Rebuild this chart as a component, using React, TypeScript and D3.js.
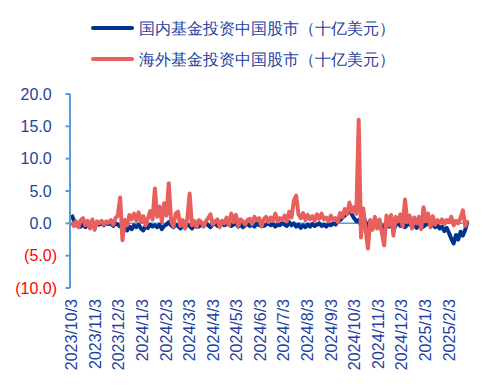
import React from "react";
import * as d3 from "d3";

const START_DATE = "2023-10-03";
const STEP_DAYS = 3;

const domesticValues = [
  1.3, 0.5, -0.3, 0.0, -0.5, -0.2, -0.6, -0.1, -0.4, 0.0, -0.3, 0.1, -0.2, 0.0, -0.3, 0.1, -0.1, 0.0, -0.4, 0.0,
  -0.2, -0.5, -0.3, -0.8, -1.1, -0.5, -0.9, -0.3, -0.6, -0.2, -0.8, -1.1, -0.4, -0.7, -0.2, -0.5, -0.3, -0.6, -0.2, -0.9,
  -0.4, -0.2, 0.2, -0.3, -0.6, -0.2, -0.4, -0.8, -0.3, -0.6, -0.2, -0.4, -0.8, -0.3, -0.1, -0.5, -0.2, -0.4, 0.0, -0.3,
  -0.6, -0.2, 0.0, -0.4, -0.1, 0.2, -0.3, -0.1, 0.1, -0.4, -0.2, 0.0, -0.5, -0.2, -0.6, -0.3, -0.1, -0.4, -0.2, -0.5,
  0.0, -0.3, -0.1, -0.4, -0.2, 0.0, -0.3, -0.1, -0.5, -0.2, -0.3, 0.1, -0.2, -0.4, 0.2, -0.3, 0.0, -0.5, -0.2, -0.7,
  -0.3, -0.6, -0.2, -0.5, -0.1, -0.4, -0.2, 0.0, -0.4, -0.2, -0.5, -0.1, -0.3, 0.0, -0.2, 0.3, 0.5, 0.9, 1.2, 1.6,
  2.0, 1.4, 0.8, 0.3, 0.5, -0.3, 1.0, 0.2, -0.5, 0.4, -0.3, 0.2, -0.6, 0.0, -0.4, -0.8, 0.1, -0.5, -0.2, -1.0,
  -0.3, 0.2, -0.4, -0.1, -0.6, -0.2, 0.0, -0.5, -0.2, -0.7, -0.3, -0.1, -0.5, -0.2, 0.1, -0.3, -0.2, -0.6, -0.3, -0.8,
  -0.5, -1.2, -0.7, -1.5, -2.4, -3.1, -1.8, -2.5, -1.3, -1.9, -1.0, 0.3,
];

const foreignValues = [
  0.2, -0.4, 0.3, -0.6, 0.5, 0.8, -0.3, 0.4, -0.8, 0.6, -1.0, 0.3, 0.0, 0.4, -0.2, 0.3, 0.1, 0.5, -0.2, 0.8,
  1.2, 4.0, -2.6, 0.5, -0.3, 1.3, 0.6, 1.5, 0.4, 1.7, 0.2, 1.1, -0.3, 0.8, 1.9, 0.6, 5.4, 1.0, 2.6, 0.3,
  3.1, 1.2, 6.2, 0.4, -0.5, 1.5, 1.8, -0.4, 0.5, -0.8, 0.7, 4.6, -0.3, 0.4, -0.6, 0.5, 0.2, -0.5, 0.3, 0.8,
  1.4, -0.2, 0.3, 0.6, -0.6, 0.4, 0.0, 0.9, -0.3, 1.5, 0.2, 1.3, -0.4, 0.6, 0.3, -0.2, 0.5, 0.7, -0.1, 1.0,
  0.5, 0.8, -0.5, 0.6, 1.0, 0.2, 0.9, 0.4, 1.5, 0.3, 0.8, 0.5, 1.2, 0.3, 1.8, 0.9, 3.5, 4.3, 1.4, 0.8,
  1.6, 0.5, 1.3, 0.6, 1.1, 0.4, 1.4, 0.7, 1.5, 0.6, 0.9, 0.3, 1.2, 0.5, 0.8, 0.2, 1.6, 1.0, 2.2, 1.4,
  3.2, 1.8, 2.5, 1.5, 16.0, -2.2, 2.3, -1.0, -3.9, 0.5, -1.0, 1.0, -0.8, 0.6, -1.5, -3.4, 1.2, -0.3, 1.3, -1.9,
  1.0, 0.3, 1.4, -0.5, 3.7, 0.2, 1.2, -0.8, 0.9, 0.0, 1.0, -0.9, 2.5, 0.3, 1.5, -0.6, 1.1, -0.2, 0.5, 0.1,
  0.6, -0.1, 0.5, 0.2, 1.0, -0.3, 0.4, 0.0, 0.9, 2.0, -0.4, 0.5,
];

const yTicks = [20, 15, 10, 5, 0, -5, -10];
const xTickLabels = [
  "2023/10/3", "2023/11/3", "2023/12/3", "2024/1/3", "2024/2/3", "2024/3/3", "2024/4/3", "2024/5/3",
  "2024/6/3", "2024/7/3", "2024/8/3", "2024/9/3", "2024/10/3", "2024/11/3", "2024/12/3", "2025/1/3", "2025/2/3",
];
const seriesNames = ["国内基金投资中国股市（十亿美元）", "海外基金投资中国股市（十亿美元）"];

const BLUE = "#00338F";
const RED = "#E8605E";
const AXIS = "#5B9BD5";
const TEXT = "#1F3F9F";
const FONT = "'Liberation Sans', Arial, sans-serif";

export default function App() {
  const parse = d3.timeParse("%Y-%m-%d");
  const parseSlash = d3.timeParse("%Y/%m/%d");
  const start = parse(START_DATE) as Date;
  const dates = domesticValues.map((_, i) => d3.timeDay.offset(start, i * STEP_DAYS));
  const endDate = dates[dates.length - 1];

  const x = d3.scaleTime().domain([start, parseSlash("2025/2/3") as Date]).range([71.5, 449]);
  const y = d3.scaleLinear().domain([-10, 20]).range([288, 94]);

  const line = d3
    .line<number>()
    .x((_, i) => x(dates[i]))
    .y((v) => y(v))
    .curve(d3.curveLinear);

  const fmt = (v: number) => (v < 0 ? `(${Math.abs(v).toFixed(1)})` : v.toFixed(1));

  return (
    <svg
      width={491}
      height={386}
      style={{ position: "absolute", left: 0, top: 0, background: "#fff" }}
      fontFamily={FONT}
    >
      {/* legend */}
      {seriesNames.map((name, i) => (
        <g key={name} transform={`translate(0, ${28 + i * 31})`}>
          <line x1={93} x2={132} y1={0} y2={0} stroke={i === 0 ? BLUE : RED} strokeWidth={4} strokeLinecap="round" />
          <text x={139} y={0} dy="0.36em" fontSize={16} fill={TEXT}>
            {name}
          </text>
        </g>
      ))}

      {/* zero axis line */}
      <line x1={70} x2={x(endDate)} y1={y(0)} y2={y(0)} stroke={AXIS} strokeWidth={1.5} />

      {/* series */}
      <path d={line(domesticValues) || ""} fill="none" stroke={BLUE} strokeWidth={4} strokeLinejoin="round" />
      <path d={line(foreignValues) || ""} fill="none" stroke={RED} strokeWidth={4} strokeLinejoin="round" />

      {/* y axis */}
      <line x1={70} x2={70} y1={y(20)} y2={y(-10)} stroke={AXIS} strokeWidth={2} />
      {yTicks.map((t) => (
        <g key={t}>
          <line x1={65.5} x2={70} y1={y(t)} y2={y(t)} stroke={AXIS} strokeWidth={2} />
          <text
            x={t < 0 ? 57 : 51.7}
            y={y(t)}
            dy="0.36em"
            textAnchor="end"
            fontSize={16}
            fill={t < 0 ? "#FF0000" : TEXT}
          >
            {fmt(t)}
          </text>
        </g>
      ))}

      {/* x labels */}
      {xTickLabels.map((lab) => {
        const d = parseSlash(lab) as Date;
        const px = x(d);
        return (
          <text
            key={lab}
            transform={`translate(${px}, 299) rotate(-90)`}
            textAnchor="end"
            dy="0.36em"
            fontSize={16}
            fill={TEXT}
          >
            {lab}
          </text>
        );
      })}
    </svg>
  );
}
